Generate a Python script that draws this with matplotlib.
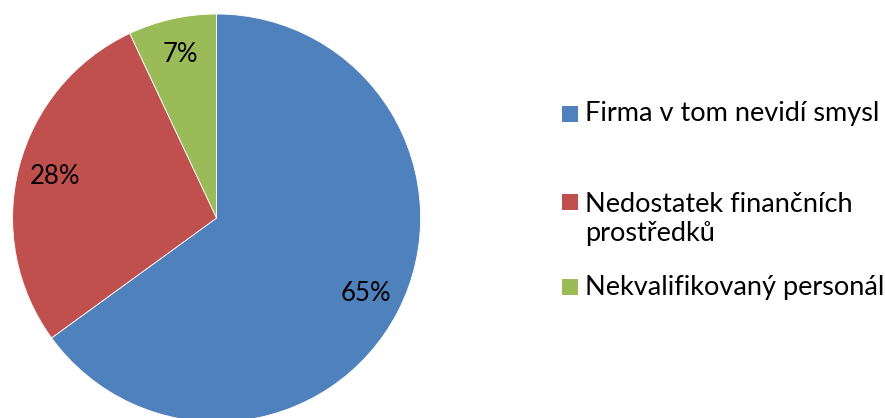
import matplotlib.pyplot as plt
from matplotlib.patches import Rectangle

# Survey shares
categories = ["Firma v tom nevidí smysl", "Nedostatek finančních\nprostředků", "Nekvalifikovaný personál"]
shares = [65, 28, 7]
colors = ["#4f81bd", "#c0504d", "#9bbb59"]

plt.rcParams['font.family'] = ['Lato', 'DejaVu Sans']

W, H = 885, 418
fig = plt.figure(figsize=(W / 100, H / 100), dpi=100)
ax = fig.add_axes([0, 0, 1, 1])

cx, cy, r = 216.6, 200, 204
wedges, texts, autotexts = ax.pie(
    shares, colors=colors, startangle=90, counterclock=False,
    center=(cx, cy), radius=r, autopct='%d%%', pctdistance=0.82,
    wedgeprops=dict(linewidth=0.6, edgecolor='white'),
    textprops=dict(fontsize=18.5, color='black'))

ax.set_xlim(0, W)
ax.set_ylim(0, H)
ax.set_aspect('equal')
ax.axis('off')

# legend drawn by hand: square marker + label per wedge
legend_y = [H - 114, H - 219, H - 287]
for wedge, label, y in zip(wedges, categories, legend_y):
    first_line = y if "\n" not in label else y + 17.5
    ax.add_patch(Rectangle((562, first_line - 8), 16, 16,
                           facecolor=wedge.get_facecolor(), edgecolor='none'))
    ax.text(585, y, label, fontsize=19.5, va='center', ha='left',
            linespacing=1.25)

fig.savefig("out.png", dpi=100)
